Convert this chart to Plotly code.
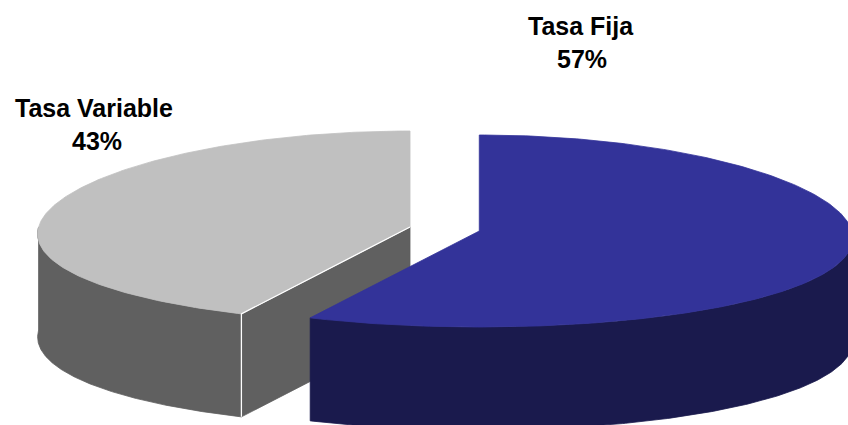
import numpy as np
import plotly.graph_objects as go

# ---- data ----
categories = ["Tasa Fija", "Tasa Variable"]
values = [57, 43]
top_colors = ["#333399", "#C0C0C0"]
side_colors = ["#1A1A4D", "#606060"]

# ---- geometry (pixels) ----
W, H = 848, 425
CX, CY = 444.65, 229.0
RX, RY = 372.0, 96.0
DEPTH = 103.0
PERSP = 0.073
EXPLODE = 0.0954
N = 240

# label positions (name line, percent line)
label_pos = [((580.5, 25.5), (581.5, 58.5)),
             ((94.0, 108.0), (97.0, 141.0))]


total = float(sum(values))
slices = []
start = 0.0
for i, v in enumerate(values):
    span = 2 * np.pi * v / total
    a0, a1 = start, start + span
    mid = 0.5 * (a0 + a1)
    ox, oz = EXPLODE * np.sin(mid), -EXPLODE * np.cos(mid)
    slices.append(dict(i=i, a0=a0, a1=a1, ox=ox, oz=oz))
    start = a1

fig = go.Figure()


def poly(xs, ys, color):
    fig.add_trace(go.Scatter(
        x=np.append(xs, xs[0]), y=np.append(ys, ys[0]), mode="lines",
        fill="toself", fillcolor=color,
        line=dict(color=color, width=0.8), hoverinfo="skip",
        showlegend=False))


def edge(xs, ys):
    fig.add_trace(go.Scatter(
        x=xs, y=ys, mode="lines", line=dict(color="white", width=1.3),
        hoverinfo="skip", showlegend=False))


for s in sorted(slices, key=lambda d: d["oz"]):
    i, a0, a1, ox, oz = s["i"], s["a0"], s["a1"], s["ox"], s["oz"]
    tc, sc = top_colors[i], side_colors[i]

    def pt(a, dz=0.0):
        a = np.asarray(a, dtype=float)
        Z = oz - np.cos(a)
        x = CX + RX * (ox + np.sin(a) * (1 + PERSP * Z))
        y = CY + RY * Z + dz
        return x, y

    cxt, cyt = CX + RX * ox, CY + RY * oz
    cxb, cyb = cxt, cyt + DEPTH

    # outer curved side (front half only)
    lo, hi = max(a0, np.pi / 2), min(a1, 3 * np.pi / 2)
    if hi > lo:
        th = np.linspace(lo, hi, N)
        xt, yt = pt(th)
        xb, yb = pt(th[::-1], DEPTH)
        poly(np.concatenate([xt, xb]), np.concatenate([yt, yb]), sc)

    # radial cut faces
    edges = []
    for a, vis in ((a0, np.sin(a0) < -1e-9), (a1, np.sin(a1) > 1e-9)):
        if vis:
            px, py = pt(a)
            qx, qy = pt(a, DEPTH)
            poly(np.array([cxt, px, qx, cxb]), np.array([cyt, py, qy, cyb]), sc)
            edges.append((np.array([qx, px, cxt]), np.array([qy, py, cyt])))

    # top face
    th = np.linspace(a0, a1, N)
    xt, yt = pt(th)
    poly(np.concatenate([[cxt], xt]), np.concatenate([[cyt], yt]), tc)

    for ex, ey in edges:
        edge(ex, ey)

# labels
for i, cat in enumerate(categories):
    pct = round(100 * values[i] / total)
    (nx, ny), (px, py) = label_pos[i]
    for txt, x, y in ((cat, nx, ny), (f"{pct}%", px, py)):
        fig.add_annotation(x=x, y=y, xref="x", yref="y", text=f"<b>{txt}</b>",
                           showarrow=False, xanchor="center", yanchor="middle",
                           font=dict(family="Liberation Sans, Arial", size=25,
                                     color="black"))

fig.update_layout(
    width=W, height=H, margin=dict(l=0, r=0, t=0, b=0),
    paper_bgcolor="white", plot_bgcolor="white", showlegend=False,
    xaxis=dict(range=[0, W], visible=False, fixedrange=True),
    yaxis=dict(range=[H, 0], visible=False, fixedrange=True),
)

fig.write_html("out.html", config={"displayModeBar": False},
               post_script="document.body.style.margin='0';"
                           "document.body.style.overflow='hidden';")
